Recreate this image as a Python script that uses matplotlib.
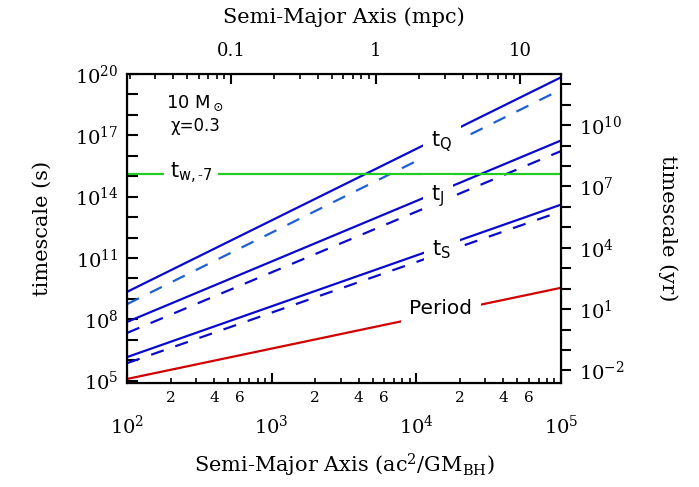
import numpy as np
import matplotlib.pyplot as plt
from matplotlib.ticker import LogLocator, FuncFormatter, NullFormatter, NullLocator

plt.rcParams['font.family'] = ['DejaVu Serif']
plt.rcParams['mathtext.fontset'] = 'dejavuserif'

# semi-major axis (ac^2/GM_BH) at the two ends of every line
a_ends = [1e2, 1e5]
# timescales in seconds read at a = 1e2 and a = 1e5
t_Q = [2.19e9, 6.9e19]
t_Q_dash = [5.5e8, 1.74e19]
t_J = [7.4e7, 5.6e16]
t_J_dash = [2.14e7, 1.7e16]
t_S = [1.41e6, 4.07e13]
t_S_dash = [7.1e5, 1.9e13]
period = [1.2e5, 3.47e9]
t_w7 = [1.35e15, 1.35e15]

rg_per_mpc = 5.22e3          # ac^2/GM_BH in one mpc
sec_per_yr = 3.156e7
ylim = (7.6e4, 1e20)

fig = plt.figure(figsize=(6.99, 4.87), dpi=100)
ax = fig.add_axes([0.1817, 0.2135, 0.6209, 0.6345])

blue = '#0a0acc'
ax.plot(a_ends, t_Q, color=blue, lw=1.6)
ax.plot(a_ends, t_Q_dash, color='#1f5fd6', lw=1.6, dashes=(6, 5.5))
ax.plot(a_ends, t_J, color=blue, lw=1.6)
ax.plot(a_ends, t_J_dash, color=blue, lw=1.6, dashes=(6, 5.5))
ax.plot(a_ends, t_S, color=blue, lw=1.6)
ax.plot(a_ends, t_S_dash, color=blue, lw=1.6, dashes=(6, 5.5))
ax.plot(a_ends, period, color='#d00000', lw=1.6)
ax.plot(a_ends, t_w7, color='#22cc22', lw=1.6)

ax.set_xscale('log')
ax.set_yscale('log')
ax.set_xlim(a_ends)
ax.set_ylim(ylim)

# line labels, white box cuts the lines
box = dict(facecolor='white', edgecolor='none', pad=6)
sans = ['DejaVu Sans']
ax.text(1.5e4, 4.7e16, r't$_\mathregular{Q}$', family=sans, fontsize=15,
        ha='center', va='center', bbox=box)
ax.text(1.41e4, 1.07e14, r't$_\mathregular{J}$', family=sans, fontsize=15,
        ha='center', va='center', bbox=box)
ax.text(1.5e4, 2.5e11, r't$_\mathregular{S}$', family=sans, fontsize=15,
        ha='center', va='center', bbox=box)
ax.text(1.48e4, 3.5e8, 'Period', family=sans, fontsize=14.5,
        ha='center', va='center', bbox=box)
ax.text(278, 1.5e15, r't$_\mathregular{w,\text{-}7}$', family=sans, fontsize=15,
        ha='center', va='center', bbox=dict(facecolor='white', edgecolor='none', pad=4))
ax.text(0.157, 0.906, r'10 M$_\odot$', family=sans, fontsize=13,
        ha='center', va='center', transform=ax.transAxes)
ax.text(0.157, 0.832, 'χ=0.3', family=sans, fontsize=12,
        ha='center', va='center', transform=ax.transAxes)


def exp_label(v):
    return r'$10^{%d}$' % int(round(np.log10(v)))


def left_fmt(v, pos):
    e = int(round(np.log10(v)))
    return exp_label(v) if e % 3 == 2 else ''


def right_fmt(v, pos):
    e = int(round(np.log10(v)))
    return exp_label(v) if e % 3 == 1 else ''


def minor_fmt(v, pos):
    m = int(round(v / 10 ** np.floor(np.log10(v) + 1e-9)))
    return str(m) if m in (2, 4, 6) else ''


for s in ax.spines.values():
    s.set_linewidth(1.5)

# bottom axis
ax.xaxis.set_major_locator(LogLocator(base=10, numticks=10))
ax.xaxis.set_major_formatter(FuncFormatter(lambda v, p: exp_label(v)))
ax.xaxis.set_minor_locator(LogLocator(base=10, subs=np.arange(2, 10), numticks=10))
ax.xaxis.set_minor_formatter(FuncFormatter(minor_fmt))
ax.tick_params(axis='x', which='major', direction='in', length=7, width=1.5,
               labelsize=14, pad=23, top=False)
ax.tick_params(axis='x', which='minor', direction='in', length=3.5, width=1.2,
               labelsize=11, pad=6, top=False)
ax.set_xlabel(r'Semi-Major Axis (ac$^2$/GM$_\mathregular{BH}$)', fontsize=15, labelpad=10)

# left axis
ax.yaxis.set_major_locator(LogLocator(base=10, numticks=30))
ax.yaxis.set_major_formatter(FuncFormatter(left_fmt))
ax.yaxis.set_minor_locator(NullLocator())
ax.tick_params(axis='y', which='major', direction='in', length=8, width=1.5,
               labelsize=14, pad=6, right=False)
ax.set_ylabel('timescale (s)', fontsize=15, labelpad=17)

# right axis in years
ay = ax.twinx()
ay.set_yscale('log')
ay.set_ylim(ylim[0] / sec_per_yr, ylim[1] / sec_per_yr)
ay.yaxis.set_major_locator(LogLocator(base=10, numticks=30))
ay.yaxis.set_major_formatter(FuncFormatter(right_fmt))
ay.yaxis.set_minor_locator(NullLocator())
ay.tick_params(axis='y', which='major', direction='out', length=7, width=1.5,
               labelsize=14, pad=6)
ay.set_ylabel('timescale (yr)', fontsize=15, rotation=270, labelpad=38)
for s in ay.spines.values():
    s.set_linewidth(1.5)

# top axis in mpc
at = ax.twiny()
at.set_xscale('log')
at.set_xlim(a_ends[0] / rg_per_mpc, a_ends[1] / rg_per_mpc)
at.xaxis.set_major_locator(LogLocator(base=10, numticks=10))
at.xaxis.set_major_formatter(FuncFormatter(lambda v, p: '%g' % v))
at.xaxis.set_minor_locator(LogLocator(base=10, subs=np.arange(2, 10), numticks=10))
at.xaxis.set_minor_formatter(NullFormatter())
at.tick_params(axis='x', which='major', direction='in', length=7, width=1.5,
               labelsize=13, pad=10)
at.tick_params(axis='x', which='minor', direction='in', length=3.5, width=1.2)
at.set_xlabel('Semi-Major Axis (mpc)', fontsize=15, labelpad=14)

fig.savefig('out.png', dpi=100)
